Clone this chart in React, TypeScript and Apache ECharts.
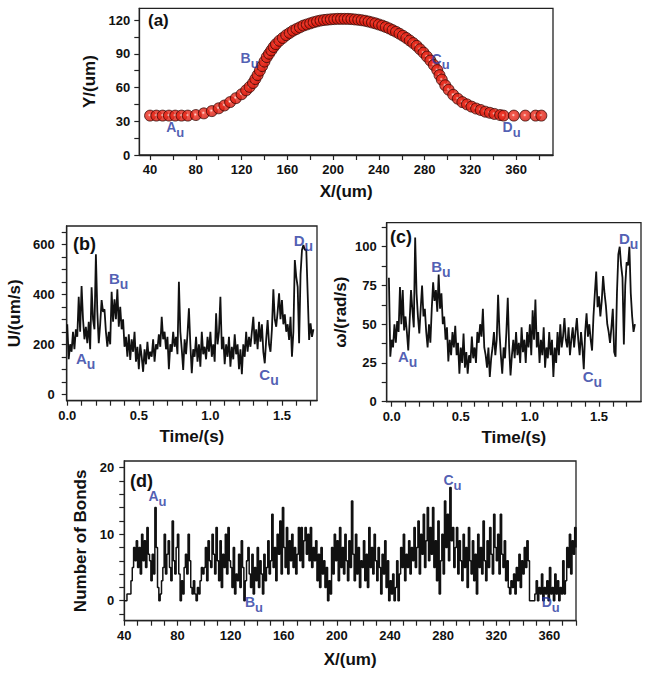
import React, { useEffect, useRef } from 'react';
import * as echarts from 'echarts';

// ---------- (a) trajectory ----------
const PATH_X = [40, 45.5, 51, 56.5, 62, 67.5, 73, 80, 87, 94, 100, 105, 110, 115, 120, 124, 127, 130, 132, 134, 136, 138, 140, 142, 144, 146, 148, 150, 153, 156, 159, 162, 165, 168, 171, 174, 177, 180, 183, 186, 189, 192, 195, 198, 201, 204, 207, 210, 213, 216, 219, 222, 225, 228, 231, 234, 237, 240, 243, 246, 249, 252, 255, 258, 261, 264, 267, 270, 273, 276, 279, 282, 285, 288, 291, 293, 295, 298, 301, 305, 309, 313, 317, 321, 325, 329, 333, 337, 341, 346, 349, 358, 368, 377, 382];
const PATH_Y = [35, 35, 35, 35, 35, 35, 35, 35.5, 37, 39, 41.5, 44, 47, 50.5, 54, 57.5, 60.5, 64, 67.5, 71, 75, 79, 83, 87, 90, 93, 96, 98.5, 101.5, 104, 106.5, 108.5, 110.5, 112, 113.5, 115, 116, 117, 118, 118.8, 119.5, 120, 120.3, 120.6, 120.8, 121, 121, 121, 121, 120.8, 120.5, 120.2, 119.8, 119.3, 118.6, 117.8, 117, 116, 115, 113.8, 112.5, 111, 109.5, 107.8, 106, 104, 101.8, 99.5, 97, 94, 91, 87.5, 84, 80, 75.5, 71, 67, 62, 58, 53.5, 50, 47, 45, 43, 41.3, 40, 38.5, 37.5, 36.5, 35.5, 35, 35, 35, 35, 35];

// ---------- (b) translational velocity ----------
const TIME_STEP = 0.01;
const U_START = 0;
const U_VALUES = [
  280, 140, 200, 170, 250, 180, 260, 230, 390, 250,
  433, 300, 220, 270, 204, 290, 180, 428, 300, 260,
  560, 330, 204, 280, 377, 330, 340, 250, 190, 250,
  200, 410, 290, 380, 300, 420, 270, 350, 260, 300,
  190, 230, 150, 240, 137, 220, 170, 250, 130, 190,
  100, 200, 150, 90, 180, 120, 210, 140, 170, 150,
  220, 130, 200, 180, 240, 190, 310, 220, 250, 180,
  230, 100, 200, 170, 250, 190, 230, 160, 450, 250,
  180, 97, 220, 160, 240, 344, 200, 84, 180, 150,
  230, 130, 200, 110, 250, 160, 190, 140, 230, 170,
  250, 150, 200, 130, 324, 200, 250, 390, 180, 230,
  120, 200, 150, 230, 110, 190, 140, 240, 160, 200,
  100, 180, 80, 200, 150, 250, 170, 230, 190, 250,
  310, 200, 260, 180, 290, 210, 280, 170, 124, 220,
  297, 200, 170, 260, 420, 300, 270, 330, 404, 300,
  377, 280, 320, 250, 280, 217, 310, 150, 250, 537,
  470, 430, 204, 480, 577, 597, 577, 580, 400, 217,
  284, 230, 260,
];

// ---------- (c) angular velocity ----------
const W_START = -0.02;
const W_VALUES = [
  80, 29, 40, 35, 50, 38, 52, 45, 74, 50,
  72, 46, 55, 45, 33, 52, 72, 59, 48, 106,
  70, 55, 44, 60, 75, 55, 60, 45, 35, 50,
  38, 60, 77, 65, 72, 58, 82, 60, 70, 50,
  55, 40, 48, 26, 40, 30, 45, 35, 49, 30,
  38, 18, 35, 25, 44, 22, 32, 18, 30, 25,
  42, 28, 35, 25, 45, 38, 50, 42, 60, 35,
  30, 22, 35, 16, 28, 35, 45, 30, 40, 69,
  45, 30, 18, 35, 28, 45, 67, 35, 17, 30,
  40, 28, 45, 30, 38, 25, 48, 32, 40, 25,
  45, 35, 50, 30, 59, 40, 66, 35, 45, 25,
  40, 30, 48, 22, 35, 28, 45, 30, 40, 16,
  35, 25, 45, 30, 50, 35, 42, 54, 40, 35,
  48, 30, 40, 48, 35, 45, 54, 40, 30, 45,
  35, 21, 45, 57, 42, 50, 40, 33, 55, 70,
  84, 61, 68, 55, 65, 81, 70, 62, 50, 45,
  38, 48, 60, 32, 29, 70, 95, 100, 88, 80,
  37, 75, 90, 88, 100, 70, 55, 45, 50,
];

// ---------- (d) number of bonds ----------
const BOND_X_START = 40;
const BOND_X_STEP = 1;
const BOND_VALUES = [
  0, 0, 1, 1, 1, 3, 5, 8, 6, 9,
  5, 8, 4, 10, 6, 9, 5, 11, 7, 6,
  3, 7, 4, 14, 8, 2, 0, 1, 3, 5,
  10, 4, 7, 9, 5, 3, 12, 6, 4, 8,
  10, 4, 0, 3, 1, 5, 7, 4, 10, 6,
  2, 1, 3, 1, 0, 2, 1, 3, 5, 4,
  5, 8, 3, 9, 6, 5, 10, 7, 4, 11,
  6, 3, 9, 2, 7, 5, 10, 4, 11, 6,
  5, 2, 8, 1, 4, 3, 7, 2, 9, 5,
  0, 3, 6, 8, 4, 2, 7, 1, 5, 3,
  8, 2, 6, 4, 1, 7, 3, 5, 9, 4,
  6, 13, 5, 8, 3, 10, 7, 12, 4, 14,
  8, 5, 11, 4, 9, 6, 10, 5, 8, 4,
  7, 11, 6, 11, 5, 9, 11, 7, 10, 6,
  11, 5, 8, 6, 9, 3, 7, 2, 8, 4,
  6, 2, 5, 0, 3, 1, 8, 4, 10, 6,
  9, 3, 11, 5, 8, 4, 10, 6, 3, 9,
  5, 15, 7, 3, 10, 4, 8, 2, 6, 5,
  9, 3, 7, 2, 11, 5, 8, 4, 10, 6,
  3, 8, 5, 1, 7, 4, 9, 2, 6, 0,
  3, 1, 4, 0, 2, 6, 0, 4, 8, 5,
  10, 3, 7, 5, 9, 4, 8, 6, 11, 5,
  8, 12, 4, 10, 7, 13, 5, 9, 14, 6,
  11, 7, 14, 5, 9, 3, 12, 1, 6, 10,
  4, 15, 8, 13, 6, 17, 9, 11, 5, 8,
  11, 4, 9, 6, 3, 10, 5, 8, 2, 11,
  6, 4, 9, 3, 7, 1, 10, 5, 8, 4,
  12, 6, 3, 9, 5, 11, 7, 4, 13, 8,
  6, 10, 4, 13, 7, 5, 9, 3, 6, 2,
  1, 3, 2, 4, 1, 5, 3, 7, 2, 6,
  4, 8, 5, 9, 6, 0, 0, 0, 0, 1,
  3, 0, 2, 1, 4, 0, 2, 1, 3, 0,
  5, 1, 2, 0, 4, 1, 3, 0, 2, 1,
  6, 1, 3, 8, 5, 10, 4, 9, 7, 11,
  8,
];

// ---------- annotations (letter, x, y in data units) ----------
const LABELS_A: [string, number, number][] = [['A', 62, 23], ['B', 127, 84], ['C', 294, 83], ['D', 356, 23]];
const LABELS_B: [string, number, number][] = [['A', 0.128, 133], ['B', 0.359, 453], ['C', 1.41, 69], ['D', 1.65, 605]];
const LABELS_C: [string, number, number][] = [['A', 0.116, 27.5], ['B', 0.356, 85.6], ['C', 1.452, 14.6], ['D', 1.715, 104]];
const LABELS_D: [string, number, number][] = [['A', 65, 15.4], ['B', 137.6, -0.5], ['C', 287, 17.7], ['D', 361, -0.6]];

// ---------- tick values ----------
const A_X_LABELS = [40, 80, 120, 160, 200, 240, 280, 320, 360];
const A_X_TICKS = [40, 60, 80, 100, 120, 140, 160, 180, 200, 220, 240, 260, 280, 300, 320, 340, 360, 380];
const A_Y_LABELS = [0, 30, 60, 90, 120];
const A_Y_TICKS = [0, 15, 30, 45, 60, 75, 90, 105, 120];
const T_LABELS = [0, 0.5, 1.0, 1.5];
const T_TICKS = [0, 0.1, 0.2, 0.3, 0.4, 0.5, 0.6, 0.7, 0.8, 0.9, 1.0, 1.1, 1.2, 1.3, 1.4, 1.5, 1.6, 1.7];
const B_Y_LABELS = [0, 200, 400, 600];
const B_Y_TICKS = [0, 50, 100, 150, 200, 250, 300, 350, 400, 450, 500, 550, 600, 650];
const C_Y_LABELS = [0, 25, 50, 75, 100];
const C_Y_TICKS = [0, 12.5, 25, 37.5, 50, 62.5, 75, 87.5, 100, 112.5];
const D_X_LABELS = [40, 80, 120, 160, 200, 240, 280, 320, 360];
const D_X_TICKS = [40, 50, 60, 70, 80, 90, 100, 110, 120, 130, 140, 150, 160, 170, 180, 190, 200, 210, 220, 230, 240, 250, 260, 270, 280, 290, 300, 310, 320, 330, 340, 350, 360, 370, 380];
const D_Y_LABELS = [0, 10, 20];
const D_Y_TICKS = [-2, 0, 2, 4, 6, 8, 10, 12, 14, 16, 18, 20];

const FONT = 'Liberation Sans, Arial, Helvetica, sans-serif';
const INK = '#111111';
const BLUE = '#2536a0';

function axis(o: any) {
  return {
    type: 'value',
    gridIndex: o.grid,
    min: o.min,
    max: o.max,
    name: o.name,
    nameLocation: 'middle',
    nameGap: o.nameGap,
    nameTextStyle: { fontSize: o.nameSize || 17, fontWeight: 'bold', color: INK, fontFamily: FONT },
    axisLine: { show: true, onZero: false, lineStyle: { color: '#222', width: 1.3 } },
    axisTick: { show: true, inside: false, length: 5, customValues: o.ticks, lineStyle: { color: '#222', width: 1.2 } },
    axisLabel: {
      customValues: o.labels,
      fontSize: o.labelSize || 13,
      fontWeight: 'bold',
      color: INK,
      fontFamily: FONT,
      margin: o.margin || 8,
      formatter: o.fmt || ((v: number) => String(v)),
    },
    splitLine: { show: false },
  };
}

function labelSeries(idx: number, items: [string, number, number][], big: boolean) {
  const mSize = big ? 15 : 14;
  const sSize = big ? 14 : 13;
  return {
    type: 'scatter',
    xAxisIndex: idx,
    yAxisIndex: idx,
    symbolSize: 1,
    silent: true,
    z: 10,
    itemStyle: { color: 'rgba(0,0,0,0)' },
    data: items.map(([n, x, y]) => ({ name: n, value: [x, y] })),
    label: {
      show: true,
      position: 'inside',
      formatter: (p: any) => `{m|${p.name}}{s|u}`,
      rich: {
        m: { fontSize: mSize, fontWeight: 'bold', color: BLUE, fontFamily: FONT, verticalAlign: 'top', lineHeight: mSize + 5 },
        s: { fontSize: sSize, fontWeight: 'bold', color: BLUE, fontFamily: FONT, verticalAlign: 'bottom', lineHeight: mSize + 5 },
      },
    },
  };
}

const tFmt = (v: number) => v.toFixed(1);

export default function App() {
  const ref = useRef<HTMLDivElement>(null);
  useEffect(() => {
    if (!ref.current) return;
    const chart = echarts.init(ref.current, undefined, { renderer: 'svg' });

    const pathData = PATH_X.map((x, i) => [x, PATH_Y[i]]);
    const uData = U_VALUES.map((v, i) => [U_START + i * TIME_STEP, v]);
    const wData = W_VALUES.map((v, i) => [W_START + i * TIME_STEP, v]);
    const bondData = BOND_VALUES.map((v, i) => [BOND_X_START + i * BOND_X_STEP, v]);

    const gridStyle = { show: true, borderColor: '#222', borderWidth: 1.3, backgroundColor: 'transparent', containLabel: false };

    chart.setOption({
      animation: false,
      backgroundColor: '#ffffff',
      textStyle: { fontFamily: FONT },
      grid: [
        { ...gridStyle, left: 139.3, top: 8.3, width: 413.7, height: 146.7 },
        { ...gridStyle, left: 66.7, top: 226, width: 250.3, height: 174.7 },
        { ...gridStyle, left: 386.7, top: 222.7, width: 254.3, height: 179 },
        { ...gridStyle, left: 124.3, top: 461, width: 451.7, height: 159.7 },
      ],
      xAxis: [
        axis({ grid: 0, min: 30.6, max: 392.2, name: 'X/(um)', nameGap: 28, labels: A_X_LABELS, ticks: A_X_TICKS, labelSize: 13 }),
        axis({ grid: 1, min: -0.004, max: 1.745, name: 'Time/(s)', nameGap: 27, labels: T_LABELS, ticks: T_TICKS, labelSize: 13, fmt: tFmt }),
        axis({ grid: 2, min: -0.036, max: 1.804, name: 'Time/(s)', nameGap: 27, labels: T_LABELS, ticks: T_TICKS, labelSize: 13, fmt: tFmt }),
        axis({ grid: 3, min: 40, max: 380, name: 'X/(um)', nameGap: 30, labels: D_X_LABELS, ticks: D_X_TICKS, labelSize: 13 }),
      ],
      yAxis: [
        axis({ grid: 0, min: 0, max: 130.4, name: 'Y/(um)', nameGap: 37, labels: A_Y_LABELS, ticks: A_Y_TICKS, labelSize: 13, margin: 9 }),
        axis({ grid: 1, min: -25.6, max: 673, name: 'U/(um/s)', nameGap: 44, labels: B_Y_LABELS, ticks: B_Y_TICKS, labelSize: 13, margin: 12 }),
        axis({ grid: 2, min: 0, max: 115.5, name: 'ω/(rad/s)', nameGap: 38, labels: C_Y_LABELS, ticks: C_Y_TICKS, labelSize: 13, margin: 10 }),
        axis({ grid: 3, min: -3, max: 21, name: 'Number of Bonds', nameGap: 34, labels: D_Y_LABELS, ticks: D_Y_TICKS, labelSize: 13, margin: 10 }),
      ],
      series: [
        {
          type: 'scatter',
          xAxisIndex: 0,
          yAxisIndex: 0,
          symbolSize: 11,
          data: pathData,
          itemStyle: {
            color: new echarts.graphic.RadialGradient(0.45, 0.45, 0.6, [
              { offset: 0, color: '#ffe0da' },
              { offset: 0.25, color: '#f03020' },
              { offset: 1, color: '#cc1208' },
            ]),
            borderColor: '#2a0502',
            borderWidth: 0.9,
          },
        },
        { type: 'line', xAxisIndex: 1, yAxisIndex: 1, data: uData, showSymbol: false, lineStyle: { color: INK, width: 1.8 } },
        { type: 'line', xAxisIndex: 2, yAxisIndex: 2, data: wData, showSymbol: false, lineStyle: { color: INK, width: 1.8 } },
        { type: 'line', xAxisIndex: 3, yAxisIndex: 3, data: bondData, step: 'end', showSymbol: false, lineStyle: { color: INK, width: 1.5 } },
        labelSeries(0, LABELS_A, false),
        labelSeries(1, LABELS_B, true),
        labelSeries(2, LABELS_C, true),
        labelSeries(3, LABELS_D, false),
      ],
      graphic: [
        { type: 'text', left: 148, top: 12, style: { text: '(a)', font: `bold 17px ${FONT}`, fill: INK } },
        { type: 'text', left: 73, top: 235, style: { text: '(b)', font: `bold 18px ${FONT}`, fill: INK } },
        { type: 'text', left: 390, top: 228, style: { text: '(c)', font: `bold 18px ${FONT}`, fill: INK } },
        { type: 'text', left: 130, top: 472, style: { text: '(d)', font: `bold 18px ${FONT}`, fill: INK } },
      ],
    });
    return () => chart.dispose();
  }, []);
  return <div ref={ref} style={{ position: 'fixed', left: 0, top: 0, width: 649, height: 681, background: '#fff' }} />;
}
